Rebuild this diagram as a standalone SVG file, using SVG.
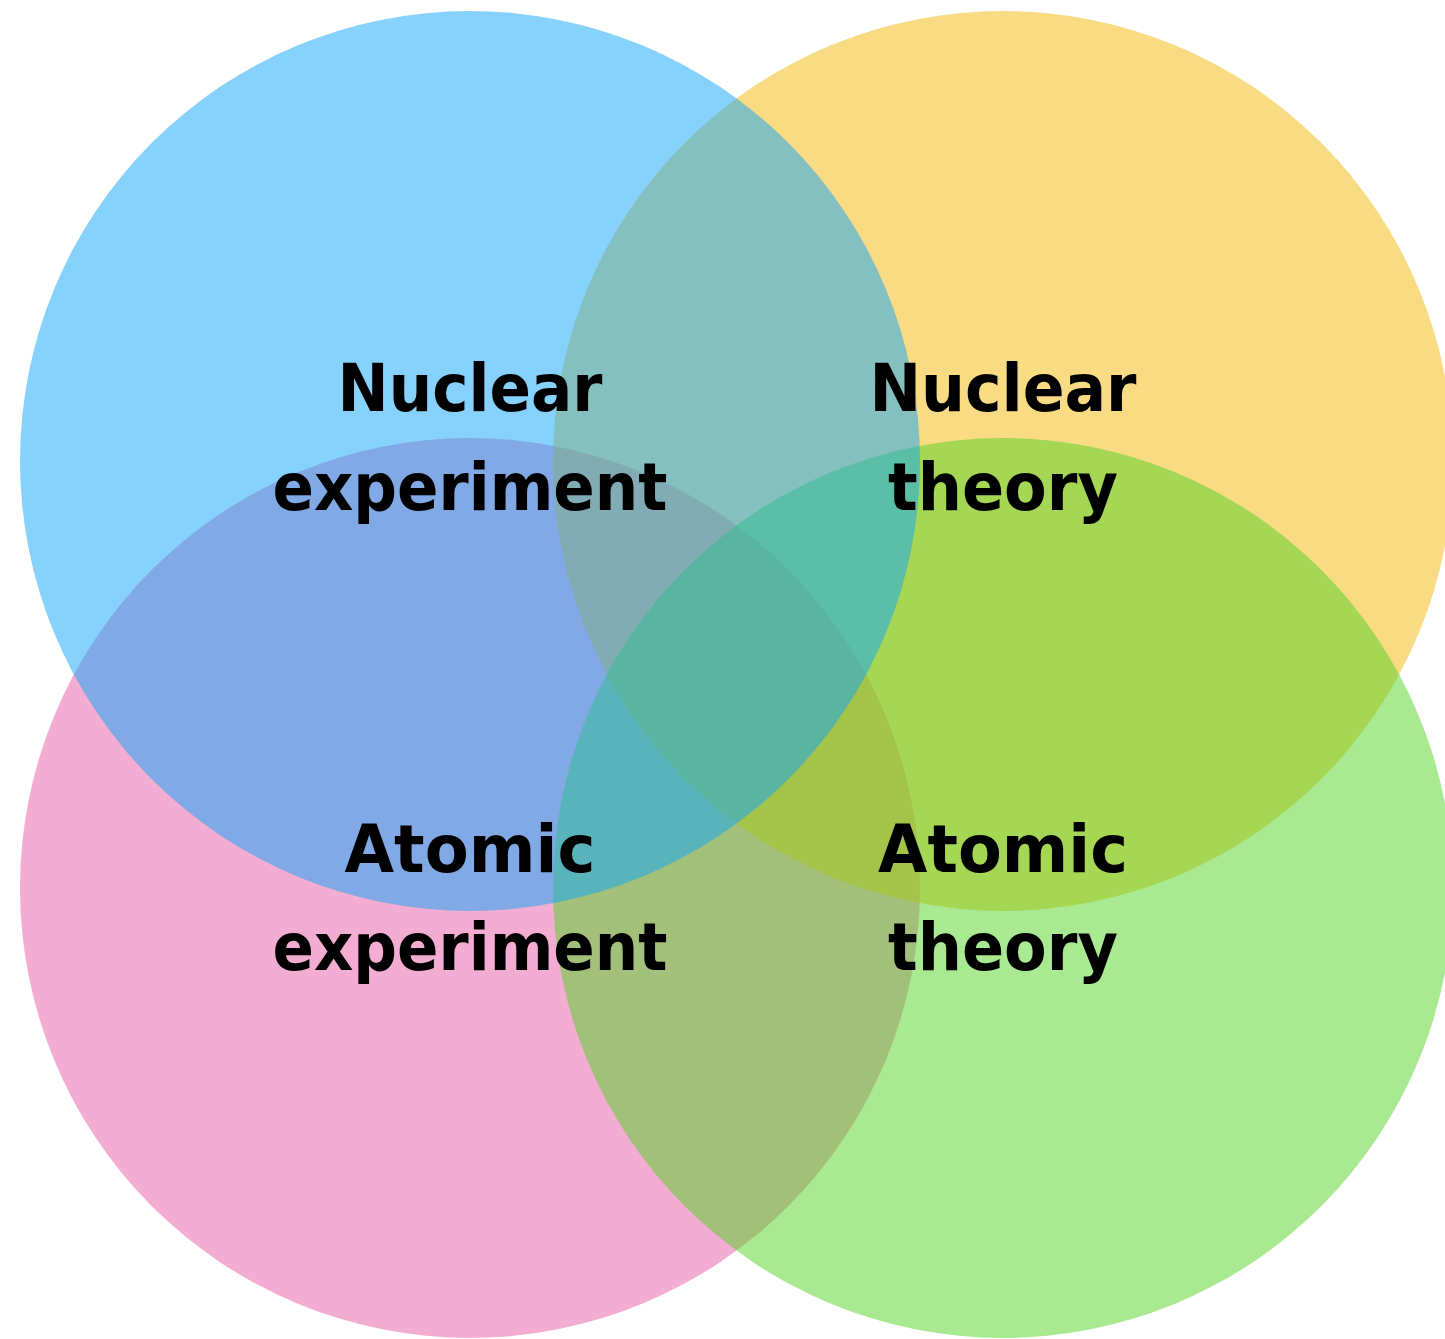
<svg xmlns="http://www.w3.org/2000/svg" width="1445" height="1339" viewBox="0 0 1445 1339">
<style>
.c{fill-opacity:0.5;stroke:none}
.t{font-family:"DejaVu Sans","Liberation Sans",sans-serif;font-weight:bold;font-size:66px;fill:#000;text-anchor:middle}
</style>
<rect width="1445" height="1339" fill="#fff"/>
<g id="atomic-experiment"><circle class="c" cx="470" cy="888" r="450" fill="rgb(231,91,165)"/></g>
<g id="nuclear-theory"><circle class="c" cx="1003" cy="461" r="450" fill="rgb(243,183,9)"/></g>
<g id="atomic-theory"><circle class="c" cx="1003" cy="888" r="450" fill="rgb(83,211,35)"/></g>
<g id="nuclear-experiment"><circle class="c" cx="470" cy="461" r="450" fill="rgb(15,165,249)"/></g>
<g id="connectors"></g>
<g id="labels">
<text class="t" x="470" y="411" textLength="265" lengthAdjust="spacingAndGlyphs">Nuclear</text>
<text class="t" x="470" y="510" textLength="395" lengthAdjust="spacingAndGlyphs">experiment</text>
<text class="t" x="1003" y="411" textLength="267" lengthAdjust="spacingAndGlyphs">Nuclear</text>
<text class="t" x="1003" y="510" textLength="230" lengthAdjust="spacingAndGlyphs">theory</text>
<text class="t" x="470" y="872" textLength="251" lengthAdjust="spacingAndGlyphs">Atomic</text>
<text class="t" x="470" y="970" textLength="395" lengthAdjust="spacingAndGlyphs">experiment</text>
<text class="t" x="1003" y="872" textLength="250" lengthAdjust="spacingAndGlyphs">Atomic</text>
<text class="t" x="1003" y="970" textLength="230" lengthAdjust="spacingAndGlyphs">theory</text>
</g>
</svg>
